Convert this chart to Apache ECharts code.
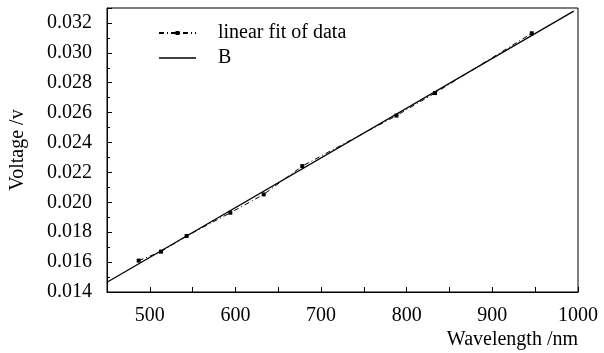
<!DOCTYPE html>
<html>
<head>
<meta charset="utf-8">
<script src="https://cdn.jsdelivr.net/npm/echarts@6/dist/echarts.min.js"></script>
<style>
  html, body { margin: 0; padding: 0; background: #fff; }
  #chart { width: 604px; height: 353px; }
</style>
</head>
<body>
<div id="chart"></div>
<script>
// measured points (nm, V)
const wavelength = [487, 513, 543, 594, 633, 678, 788, 833, 946]
const voltage = [0.0161, 0.0167, 0.01775, 0.0193, 0.02053, 0.02242, 0.0258, 0.02731, 0.03131]
// end points of the straight line
const lineX = [450, 995]
const lineY = [0.01465, 0.03279]

const font = 'Liberation Serif'
const size = 20

const chart = echarts.init(document.getElementById('chart'))

chart.setOption({
  animation: false,
  textStyle: { fontFamily: font, color: '#000' },
  grid: {
    left: 107,
    right: 26,
    top: 8,
    bottom: 61,
    show: true,
    borderColor: '#000',
    borderWidth: 1
  },
  legend: {
    orient: 'vertical',
    left: 158,
    top: 23,
    padding: 0,
    itemWidth: 37,
    itemHeight: 5,
    itemGap: 5,
    textStyle: { fontFamily: font, fontSize: size, color: '#000', padding: [0, 0, 0, 17] },
    data: [
      { name: 'linear fit of data' },
      { name: 'B', icon: 'line', itemStyle: { color: '#000', borderColor: '#000', borderWidth: 1.6 } }
    ]
  },
  xAxis: {
    type: 'value',
    min: 450,
    max: 1000,
    interval: 50,
    name: 'Wavelength /nm',
    nameLocation: 'end',
    nameGap: 0,
    nameTextStyle: {
      fontFamily: font, fontSize: size, color: '#000',
      align: 'right', verticalAlign: 'top', padding: [38, 0, 0, 0]
    },
    axisLine: { lineStyle: { color: '#000', width: 1 } },
    axisTick: { inside: true, length: 5, lineStyle: { color: '#000' } },
    axisLabel: {
      fontFamily: font, fontSize: size, color: '#000', margin: 14,
      formatter: v => (v % 100 === 0 ? String(v) : '')
    },
    splitLine: { show: false }
  },
  yAxis: {
    type: 'value',
    min: 0.014,
    max: 0.033,
    interval: 0.002,
    name: 'Voltage /v',
    nameLocation: 'middle',
    nameRotate: 90,
    nameGap: 79,
    nameTextStyle: { fontFamily: font, fontSize: size, color: '#000' },
    axisLine: { show: true, lineStyle: { color: '#000', width: 1 } },
    axisTick: { inside: true, length: 5, lineStyle: { color: '#000' } },
    minorTick: { show: true, splitNumber: 2, length: 3, lineStyle: { color: '#000' } },
    axisLabel: {
      fontFamily: font, fontSize: size, color: '#000', margin: 15,
      showMaxLabel: false,
      formatter: v => v.toFixed(3)
    },
    splitLine: { show: false }
  },
  series: [
    {
      name: 'linear fit of data',
      type: 'line',
      data: wavelength.map((x, i) => [x, voltage[i]]),
      symbol: 'rect',
      symbolSize: 4,
      itemStyle: { color: '#000' },
      lineStyle: { color: '#000', width: 1, type: [5, 3, 1, 3] },
      z: 3
    },
    {
      name: 'B',
      type: 'line',
      data: lineX.map((x, i) => [x, lineY[i]]),
      symbol: 'none',
      itemStyle: { color: '#000' },
      lineStyle: { color: '#000', width: 1.3 },
      z: 2
    }
  ]
})
</script>
</body>
</html>
